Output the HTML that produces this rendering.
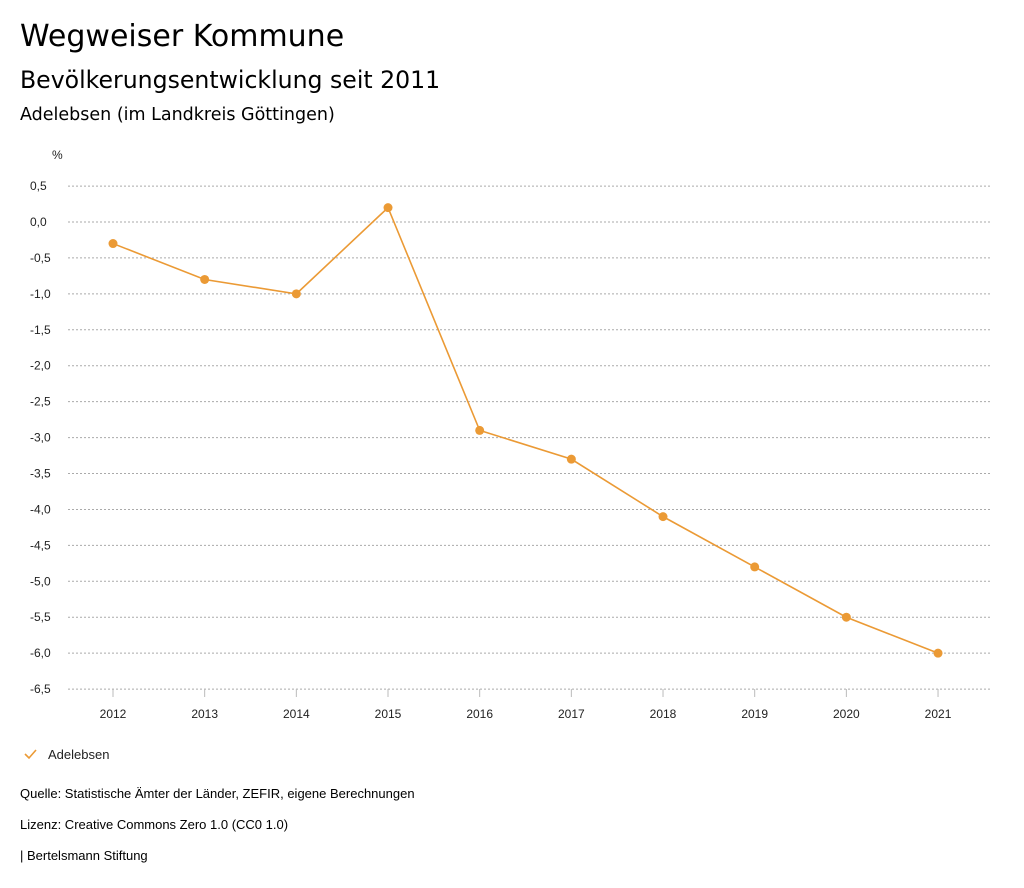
<!DOCTYPE html>
<html><head><meta charset="utf-8">
<style>
body{margin:0;background:#fff;font-family:"Liberation Sans","DejaVu Sans",sans-serif;color:#000;}
.wrap{position:relative;width:1024px;height:888px;overflow:hidden;}
.t{position:absolute;left:20px;white-space:nowrap;}
.d{font-family:"DejaVu Sans",sans-serif;}
</style></head><body>
<div class="wrap">
<div class="t d" style="top:19px;font-size:30px;">Wegweiser Kommune</div>
<div class="t d" style="top:66px;font-size:23.6px;">Bevölkerungsentwicklung seit 2011</div>
<div class="t d" style="top:105px;font-size:17.5px;">Adelebsen (im Landkreis Göttingen)</div>
<svg id="chart" width="1024" height="888" style="position:absolute;left:0;top:0"></svg>
<div class="t" style="top:786px;font-size:13px;">Quelle: Statistische Ämter der Länder, ZEFIR, eigene Berechnungen</div>
<div class="t" style="top:817px;font-size:13px;">Lizenz: Creative Commons Zero 1.0 (CC0 1.0)</div>
<div class="t" style="top:848px;font-size:13px;">| Bertelsmann Stiftung</div>
</div>
<script>
const years=["2012","2013","2014","2015","2016","2017","2018","2019","2020","2021"];
const values=[-0.3,-0.8,-1.0,0.2,-2.9,-3.3,-4.1,-4.8,-5.5,-6.0];
const yTicks=[0.5,0,-0.5,-1,-1.5,-2,-2.5,-3,-3.5,-4,-4.5,-5,-5.5,-6,-6.5];
const NS="http://www.w3.org/2000/svg";
const svg=document.getElementById('chart');
const color="#eb9a35";
function y(v){return 222-(v)*71.86;}
function x(i){return 113+i*91.67;}
function mk(tag,attrs,parent){const e=document.createElementNS(NS,tag);for(const k in attrs)e.setAttribute(k,attrs[k]);(parent||svg).appendChild(e);return e;}
let t=mk('text',{x:52,y:159,'font-size':12,fill:'#222'});t.textContent='%';


yTicks.forEach(v=>{
  const l=mk('line',{x1:68,x2:990,y1:y(v),y2:y(v),stroke:'#aaa','stroke-dasharray':'2,2','stroke-width':1});
  
  
  const tx=mk('text',{x:30,y:y(v)+4,'font-size':12,fill:'#222'});
  tx.textContent=v.toFixed(1).replace('.',',');
  
  
});
years.forEach((yr,i)=>{
  const l=mk('line',{x1:x(i),x2:x(i),y1:689,y2:697,stroke:'#bbb'});
  
  
  const tx=mk('text',{x:x(i),y:718,'font-size':12,fill:'#222','text-anchor':'middle'});
  tx.textContent=yr;
  
  
});
const pl=mk('polyline',{points:values.map((v,i)=>x(i)+','+y(v)).join(' '),fill:'none',stroke:color,'stroke-width':1.6});


values.forEach((v,i)=>{
  const c=mk('circle',{cx:x(i),cy:y(v),r:4.5,fill:color});
  
  
});
const g=mk('g',{});


mk('polyline',{points:'25,754 29,758 36,750',fill:'none',stroke:color,'stroke-width':1.6},g);
const lt=mk('text',{x:48,y:759,'font-size':13,fill:'#222'},g);lt.textContent='Adelebsen';
</script>
</body></html>
